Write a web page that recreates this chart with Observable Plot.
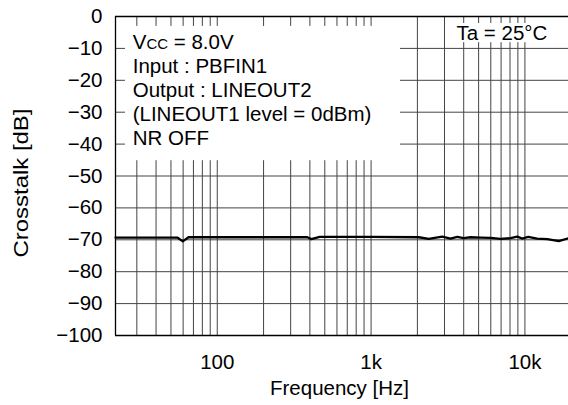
<!DOCTYPE html>
<html><head><meta charset="utf-8">
<script src="https://cdn.jsdelivr.net/npm/d3@7"></script>
<script src="https://cdn.jsdelivr.net/npm/@observablehq/plot@0.6"></script>
<style>body{margin:0;background:#fff}</style>
</head><body><div id="chart"></div>
<script>
// Measured crosstalk curve
const freq = [21.8, 40, 55, 59.7, 65, 100, 200, 385, 409, 463, 1000, 2040, 2370, 2900, 3280, 3630, 4000, 4430, 5150, 5980, 6950, 8070, 8920, 9600, 10500, 12000, 14000, 16600, 19200];
const crosstalk = [-69.3, -69.3, -69.3, -70.5, -69.2, -69.2, -69.2, -69.2, -69.8, -69.1, -69.1, -69.2, -69.7, -69.0, -69.6, -69.1, -69.5, -69.2, -69.3, -69.4, -69.7, -69.5, -69.0, -69.6, -69.1, -69.6, -69.8, -70.4, -69.5];

// Axes
const xDomain = [21.8, 19200];
const yDomain = [-100, 0];
const xTickValues = [100, 1000, 10000];
const xTickLabels = ["100", "1k", "10k"];
const yTickValues = [0, -10, -20, -30, -40, -50, -60, -70, -80, -90, -100];
const yTickLabels = ["0", "−10", "−20", "−30", "−40", "−50", "−60", "−70", "−80", "−90", "−100"];
const xGrid = [30, 40, 50, 60, 70, 80, 90, 100, 200, 300, 400, 500, 600, 700, 800, 900, 1000, 2000, 3000, 4000, 5000, 6000, 7000, 8000, 9000, 10000];
const yGrid = [-10, -20, -30, -40, -50, -60, -70, -80, -90];

// Annotations
const infoLines = ["VCC = 8.0V", "Input : PBFIN1", "Output : LINEOUT2", "(LINEOUT1 level = 0dBm)", "NR OFF"];
const tempLabel = "Ta = 25°C";
const infoBox = {x1: 25.3, x2: 1553, y1: -45.2, y2: -3.1};
const tempBox = {x1: 3280, x2: 16500, y1: -8.2, y2: -2.2};

const data = freq.map((f, i) => ({f, v: crosstalk[i]}));
const font = "'Liberation Sans', Arial, Helvetica, sans-serif";

const svg = Plot.plot({
  width: 568,
  height: 405,
  marginLeft: 115,
  marginRight: 0,
  marginTop: 16,
  marginBottom: 70,
  style: {fontFamily: font, fontSize: "20.5px", color: "#000", background: "#fff"},
  x: {type: "log", domain: xDomain},
  y: {domain: yDomain},
  marks: [
    Plot.ruleX(xGrid, {stroke: "#444", strokeWidth: 1}),
    Plot.ruleY(yGrid, {stroke: "#444", strokeWidth: 1}),
    Plot.rect([infoBox], {x1: "x1", x2: "x2", y1: "y1", y2: "y2", fill: "#fff"}),
    Plot.rect([tempBox], {x1: "x1", x2: "x2", y1: "y1", y2: "y2", fill: "#fff"}),
    Plot.line(data, {x: "f", y: "v", stroke: "#000", strokeWidth: 2.3}),
    Plot.ruleX([xDomain[0]], {stroke: "#000", strokeWidth: 1.3}),
    Plot.ruleY([yDomain[0], yDomain[1]], {stroke: "#000", strokeWidth: 1.3}),
    Plot.axisX({ticks: xTickValues, tickSize: 0, tickPadding: 19, tickFormat: d => xTickLabels[xTickValues.indexOf(d)], label: null}),
    Plot.axisY({ticks: yTickValues, tickSize: 0, tickPadding: 13, tickFormat: d => yTickLabels[yTickValues.indexOf(d)], label: null}),
    Plot.text([infoLines.join("\n")], {x: 28.2, y: -40.2, text: d => d, textAnchor: "start", lineAnchor: "bottom", lineHeight: 1.171, fill: "#000"}),
    Plot.text([tempLabel], {x: 3590, y: -7.3, text: d => d, textAnchor: "start", lineAnchor: "bottom", fill: "#000"}),
    Plot.text(["Frequency [Hz]"], {frameAnchor: "bottom", dx: -2.5, dy: 59, text: d => d, fill: "#000"}),
    Plot.text(["Crosstalk [dB]"], {frameAnchor: "left", dx: -94, dy: 81.5, rotate: -90, textAnchor: "start", text: d => d, fill: "#000"})
  ]
});

const ns = "http://www.w3.org/2000/svg";
svg.querySelectorAll("tspan").forEach(t => {
  if (t.textContent === "VCC = 8.0V") {
    t.textContent = "";
    t.append("V");
    const s = document.createElementNS(ns, "tspan");
    s.setAttribute("font-size", "15");
    s.textContent = "CC";
    t.append(s);
    t.append(" = 8.0V");
  }
});
svg.querySelectorAll("text").forEach(t => {
  if (t.textContent === "Crosstalk [dB]") {
    t.setAttribute("textLength", "149");
    t.setAttribute("lengthAdjust", "spacingAndGlyphs");
  }
});
document.getElementById("chart").append(svg);
</script>
</body></html>
